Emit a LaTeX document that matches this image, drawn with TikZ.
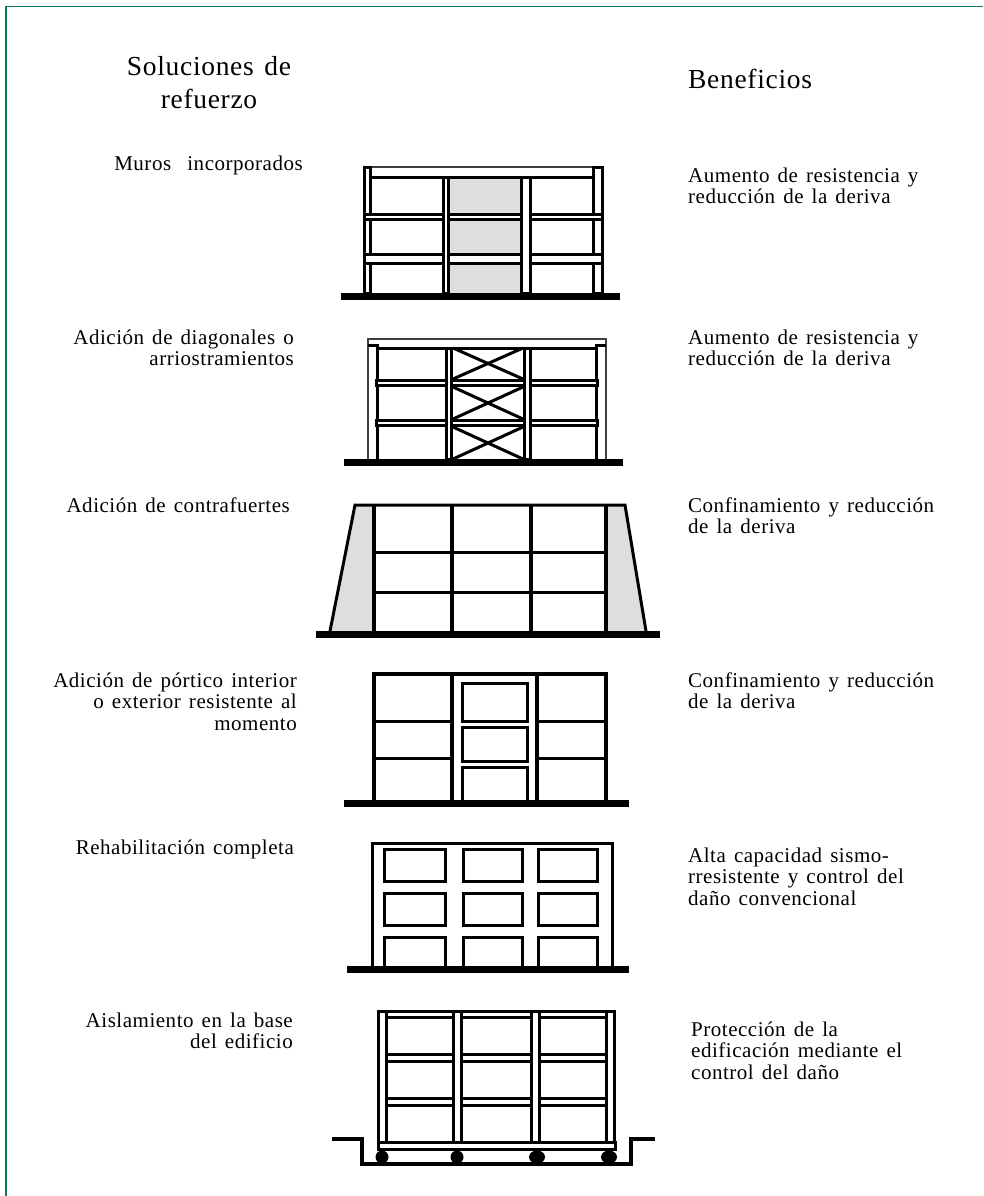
\documentclass[tikz,border=0pt]{standalone}
\usepackage{fontspec}
\setmainfont[LetterSpace=2.5,WordSpace=1.4]{Liberation Serif}
\definecolor{framegreen}{RGB}{10,120,100}
\definecolor{wallgray}{RGB}{222,222,222}
\begin{document}
\begin{tikzpicture}[x=1pt,y=-1pt,
    barline/.style={line width=3,draw=black},
    heavyline/.style={line width=3.5,draw=black},
    thinline/.style={line width=2,draw=black!75},
    beambox/.style={barline,fill=white},
    groundbar/.style={fill=black},
    wallfill/.style={fill=wallgray},
    titlelabel/.style={inner sep=0,font=\fontsize{27.5}{33}\selectfont},
    solutionlabel/.style={anchor=north east,align=right,inner sep=0,font=\fontsize{21}{21.5}\selectfont},
    benefitlabel/.style={anchor=north west,align=left,inner sep=0,font=\fontsize{21}{21.5}\selectfont}]
\useasboundingbox (0,0) rectangle (983,1196);
\draw[framegreen,line width=1.8] (6,1196) -- (6,6.5) -- (983,6.5);
\node[titlelabel,anchor=north,align=center] (soluciones) at (209,56) {Soluciones de\\refuerzo};
\node[titlelabel,anchor=north west] (beneficios) at (688,69) {Beneficios};
\node[solutionlabel] (muros) at (303,155.5) {Muros~~incorporados};
\node[solutionlabel] (diagonales) at (294,329.5) {Adición de diagonales o\\arriostramientos};
\node[solutionlabel] (contrafuertes) at (290,497.5) {Adición de contrafuertes};
\node[solutionlabel] (portico) at (297,672.5) {Adición de pórtico interior\\o exterior resistente al\\momento};
\node[solutionlabel] (rehabilitacion) at (294,839.5) {Rehabilitación completa};
\node[solutionlabel] (aislamiento) at (293,1012.5) {Aislamiento en la base\\del edificio};
\node[benefitlabel] (aumentoa) at (688,167.5) {Aumento de resistencia y\\reducción de la deriva};
\node[benefitlabel] (aumentob) at (688,329.5) {Aumento de resistencia y\\reducción de la deriva};
\node[benefitlabel] (confinaa) at (688,497.5) {Confinamiento y reducción\\de la deriva};
\node[benefitlabel] (confinab) at (688,672.5) {Confinamiento y reducción\\de la deriva};
\node[benefitlabel] (alta) at (688,847.5) {Alta capacidad sismo-\\rresistente y control del\\daño convencional};
\node[benefitlabel] (proteccion) at (691,1021.5) {Protección de la\\edificación mediante el\\control del daño};
\fill[wallfill] (450,177) rectangle (520,293);
\draw[thinline] (364,167) -- (603,167);
\draw[barline] (372,177) -- (592,177);
\foreach \xa/\xb in {364.5/370.5,593.5/602.5}
    \draw[barline] (\xa,167) rectangle (\xb,293);
\foreach \ya/\yb in {214.5/219.5,254.5/263.5}
    \draw[beambox] (364.5,\ya) rectangle (602.5,\yb);
\foreach \xa/\xb in {443.5/448.5,521.5/530.5}
    \draw[beambox] (\xa,177) rectangle (\xb,293);
\fill[groundbar] (341,293) rectangle (620,300);
\draw[thinline] (368,348) |- (606,339) -- (606,348);
\draw[barline] (377,348) -- (596,348);
\foreach \ya/\yb in {380.5/385.5,420.5/425.5}
    \draw[beambox] (376,\ya) rectangle (597,\yb);
\foreach \ya/\yb in {348/379,387/419,427/459} {
    \draw[barline] (453,\ya) -- (523,\yb);
    \draw[barline] (453,\yb) -- (523,\ya);
}
\draw[thinline] (368,345) -- (368,459);
\draw[thinline] (606,345) -- (606,459);
\draw[barline] (368,345) -- (377,345) -- (377,379) (377,387) -- (377,419) (377,427) -- (377,459);
\draw[barline] (606,345) -- (596,345) -- (596,379) (596,387) -- (596,419) (596,427) -- (596,459);
\foreach \xa/\xb in {446.5/451.5,524.5/530.5}
    \draw[beambox] (\xa,348) rectangle (\xb,459);
\fill[groundbar] (344,459) rectangle (623,466);
\fill[wallfill] (355,505) -- (330,631) -- (374,631) -- (374,505) -- cycle;
\fill[wallfill] (625,505) -- (646,631) -- (606,631) -- (606,505) -- cycle;
\draw[barline] (330,631) -- (355,505) -- (625,505) -- (646,631);
\foreach \xa in {374,452,531,606}
    \draw[heavyline] (\xa,505) -- (\xa,631);
\foreach \ya in {552,592}
    \draw[barline] (374,\ya) -- (606,\ya);
\fill[groundbar] (316,631) rectangle (660,638);
\draw[heavyline] (374,800) |- (606,674) -- (606,800);
\foreach \xa in {452,537}
    \draw[heavyline] (\xa,674) -- (\xa,800);
\foreach \ya in {721,758} {
    \draw[barline] (374,\ya) -- (452,\ya);
    \draw[barline] (537,\ya) -- (606,\ya);
}
\foreach \ya/\yb in {683/721,727/761}
    \draw[barline] (462,\ya) rectangle (527,\yb);
\draw[barline] (462,800) |- (527,767) -- (527,800);
\fill[groundbar] (344,800) rectangle (629,807);
\draw[barline] (372,966) |- (612,843) -- (612,966);
\foreach \xa/\xb in {384.5/445.5,463.5/522.5,538.5/597.5} {
    \foreach \ya/\yb in {849.5/881.5,893.5/925.5}
        \draw[barline] (\xa,\ya) rectangle (\xb,\yb);
    \draw[barline] (\xa,966) |- (\xb,937.5) -- (\xb,966);
}
\fill[groundbar] (347,966) rectangle (629,973);
\draw[barline] (377,1011) -- (616,1011);
\draw[barline] (377,1017) -- (616,1017);
\foreach \ya/\yb in {1054/1061,1098/1105}
    \draw[barline] (377,\ya) -- (616,\ya) (377,\yb) -- (616,\yb);
\draw[beambox] (378,1142) rectangle (615,1149);
\foreach \xa/\xb in {378.5/386.5,453.5/461.5,531.5/539.5,606.5/614.5}
    \draw[beambox] (\xa,1011) rectangle (\xb,1142);
\draw[heavyline] (332,1139) -- (362,1139) -- (362,1164) -- (631,1164) -- (631,1139) -- (655,1139);
\foreach \xa/\rx in {382/6.5,457/6.5,537/8,609/8}
    \fill (\xa,1157) ellipse [x radius=\rx,y radius=6.5];
\end{tikzpicture}
\end{document}
